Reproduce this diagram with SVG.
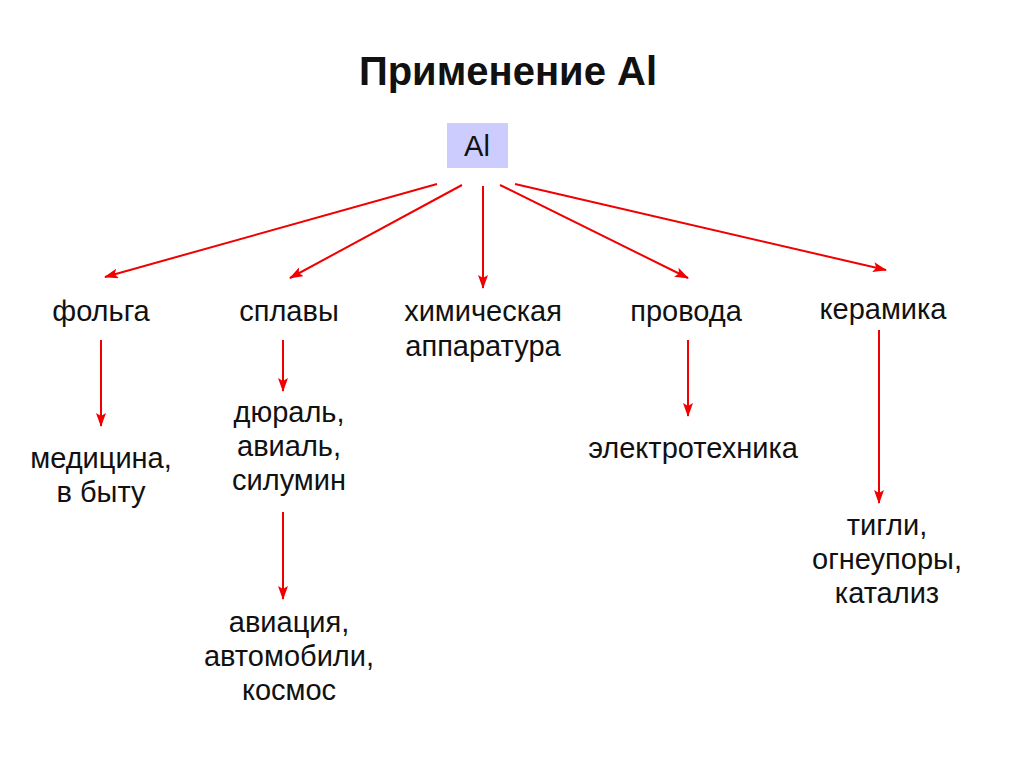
<svg xmlns="http://www.w3.org/2000/svg" width="1024" height="767" viewBox="0 0 1024 767">
<style>
text{font-family:"Liberation Sans",Arial,sans-serif;fill:#111;text-anchor:middle}
.lbl{font-size:29px}
.title{font-size:40px;font-weight:bold}
.conn line{stroke:#f00000;stroke-width:2;fill:none;marker-end:url(#ah)}
</style>
<defs>
<marker id="ah" markerUnits="userSpaceOnUse" markerWidth="14" markerHeight="10" viewBox="0 0 14 10" refX="13" refY="5" orient="auto">
<path d="M0,0 L14,5 L0,10 L3,5 Z" fill="#f00000"/>
</marker>
</defs>
<rect width="1024" height="767" fill="#fff"/>
<g id="title"><text class="title" x="508" y="85">Применение Al</text></g>
<g id="n-al"><rect x="447" y="123" width="61" height="45" fill="#ccccff"/><text class="lbl" x="477" y="156">Al</text></g>
<g id="n-folga"><text class="lbl" x="101" y="321">фольга</text></g>
<g id="n-splavy"><text class="lbl" x="289" y="321">сплавы</text></g>
<g id="n-chem"><text class="lbl" x="483" y="321">химическая</text><text class="lbl" x="483" y="356">аппаратура</text></g>
<g id="n-provoda"><text class="lbl" x="686" y="321">провода</text></g>
<g id="n-ceramic"><text class="lbl" x="883" y="319">керамика</text></g>
<g id="n-med"><text class="lbl" x="101" y="468">медицина,</text><text class="lbl" x="101" y="502">в быту</text></g>
<g id="n-dural"><text class="lbl" x="289" y="422">дюраль,</text><text class="lbl" x="289" y="456">авиаль,</text><text class="lbl" x="289" y="490">силумин</text></g>
<g id="n-elec"><text class="lbl" x="693" y="458">электротехника</text></g>
<g id="n-tigli"><text class="lbl" x="887" y="535">тигли,</text><text class="lbl" x="887" y="569">огнеупоры,</text><text class="lbl" x="887" y="603">катализ</text></g>
<g id="n-avia"><text class="lbl" x="289" y="632">авиация,</text><text class="lbl" x="289" y="666">автомобили,</text><text class="lbl" x="289" y="700">космос</text></g>
<g id="connectors" class="conn">
<line x1="437" y1="184" x2="105" y2="277"/>
<line x1="462" y1="185" x2="290" y2="278"/>
<line x1="483" y1="186" x2="483" y2="288"/>
<line x1="500" y1="185" x2="688" y2="278"/>
<line x1="515" y1="184" x2="886" y2="270"/>
<line x1="101" y1="340" x2="101" y2="426"/>
<line x1="283" y1="340" x2="283" y2="391"/>
<line x1="283" y1="512" x2="283" y2="599"/>
<line x1="688" y1="340" x2="688" y2="416"/>
<line x1="879" y1="330" x2="879" y2="503"/>
</g>
</svg>
